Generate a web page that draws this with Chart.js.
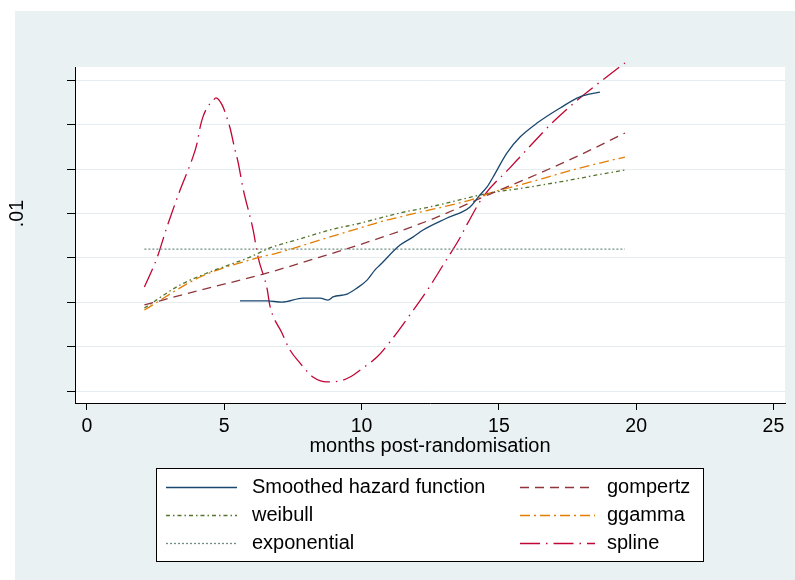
<!DOCTYPE html>
<html>
<head>
<meta charset="utf-8">
<script src="https://cdn.jsdelivr.net/npm/chart.js@4.4.1/dist/chart.umd.min.js"></script>
<style>
  html, body { margin: 0; padding: 0; background: #ffffff; }
  #wrap { width: 795px; height: 580px; position: relative; }
</style>
</head>
<body>
<div id="wrap"><canvas id="c" width="795" height="580"></canvas></div>
<script>
// ---- data ----
const xTickValues = [0, 5, 10, 15, 20, 25];
const yTickValues = [0.002, 0.004, 0.006, 0.008, 0.010, 0.012, 0.014, 0.016];

const hazardX = [5.57, 6.56, 7.10, 7.87, 8.49, 8.78, 8.96, 9.47, 9.83, 10.20, 10.49, 10.67, 11.40, 11.87, 12.24, 13.11, 13.95, 14.31, 14.57, 14.79, 15.29, 15.77, 16.39, 17.23, 17.95, 18.68];
const hazardY = [0.00606, 0.00606, 0.00601, 0.00619, 0.00619, 0.00610, 0.00624, 0.00637, 0.00664, 0.00700, 0.00746, 0.00768, 0.00858, 0.00894, 0.00926, 0.00980, 0.01030, 0.01084, 0.01120, 0.01165, 0.01273, 0.01345, 0.01408, 0.01476, 0.01526, 0.01548];

const gompertzX = [2.09, 4.12, 6.30, 8.49, 10.67, 12.49, 14.68, 16.50, 17.95, 19.59];
const gompertzY = [0.00588, 0.00655, 0.00723, 0.00804, 0.00890, 0.00971, 0.01088, 0.01183, 0.01264, 0.01363];

const weibullX = [2.09, 3.39, 4.48, 5.94, 6.66, 7.87, 8.96, 9.83, 10.67, 11.40, 12.49, 14.68, 15.88, 17.59, 18.57, 19.59];
const weibullY = [0.00574, 0.00678, 0.00737, 0.00804, 0.00845, 0.00890, 0.00930, 0.00953, 0.00980, 0.01003, 0.01030, 0.01093, 0.01115, 0.01151, 0.01174, 0.01196];

const ggammaX = [2.09, 4.12, 6.19, 6.92, 8.49, 9.94, 10.67, 11.40, 14.31, 14.68, 15.77, 17.70, 18.68, 19.59];
const ggammaY = [0.00565, 0.00714, 0.00800, 0.00822, 0.00881, 0.00935, 0.00962, 0.00985, 0.01075, 0.01093, 0.01129, 0.01197, 0.01228, 0.01255];

const exponentialX = [2.09, 19.59];
const exponentialY = [0.00840, 0.00840];

const splineX = [2.09, 2.55, 2.91, 3.39, 3.82, 4.01, 4.12, 4.22, 4.41, 4.55, 4.70, 4.92, 5.10, 5.21, 5.39, 5.50, 5.68, 6.05, 6.23, 6.56, 6.66, 7.10, 7.39, 7.76, 8.23, 8.74, 9.21, 9.58, 10.05, 10.56, 11.03, 11.76, 12.49, 13.04, 13.58, 13.87, 14.42, 15.40, 16.24, 16.97, 17.95, 18.68, 19.59];
const splineY = [0.00669, 0.00800, 0.00939, 0.01106, 0.01242, 0.01318, 0.01390, 0.01435, 0.01485, 0.01503, 0.01522, 0.01490, 0.01431, 0.01386, 0.01287, 0.01233, 0.01115, 0.00926, 0.00804, 0.00660, 0.00585, 0.00462, 0.00385, 0.00326, 0.00263, 0.00241, 0.00245, 0.00263, 0.00304, 0.00353, 0.00421, 0.00543, 0.00673, 0.00782, 0.00890, 0.00958, 0.01075, 0.01206, 0.01318, 0.01413, 0.01521, 0.01593, 0.01679];

const seriesNames = ['Smoothed hazard function', 'gompertz', 'weibull', 'ggamma', 'exponential', 'spline'];

function pts(xs, ys) { return xs.map((x, i) => ({ x: x, y: ys[i] })); }

const FONT = "'Liberation Sans', Arial, Helvetica, sans-serif";

const datasets = [
  { label: seriesNames[0], data: pts(hazardX, hazardY), borderColor: '#1a476f', borderDash: [] },
  { label: seriesNames[1], data: pts(gompertzX, gompertzY), borderColor: '#90353b', borderDash: [9, 6] },
  { label: seriesNames[2], data: pts(weibullX, weibullY), borderColor: '#55752f', borderDash: [4, 3, 1.5, 3] },
  { label: seriesNames[3], data: pts(ggammaX, ggammaY), borderColor: '#e37e00', borderDash: [10, 4, 2, 4] },
  { label: seriesNames[4], data: pts(exponentialX, exponentialY), borderColor: '#6e8e84', borderDash: [2, 2] },
  { label: seriesNames[5], data: pts(splineX, splineY), borderColor: '#c10534', borderDash: [20, 6, 1.5, 6] }
].map(d => Object.assign({
  borderWidth: 1.3, pointRadius: 0, fill: false, cubicInterpolationMode: 'monotone', clip: false
}, d));

const bgPlugin = {
  id: 'bgPlugin',
  beforeDraw(chart) {
    const ctx = chart.ctx, a = chart.chartArea;
    ctx.save();
    ctx.fillStyle = '#e9f1f3';
    ctx.fillRect(15, 11, 780, 569);
    ctx.fillStyle = '#ffffff';
    ctx.fillRect(a.left, a.top, a.right - a.left, a.bottom - a.top);
    ctx.restore();
  }
};

const legendPlugin = {
  id: 'boxLegend',
  afterDraw(chart) {
    const ctx = chart.ctx;
    const box = { x: 156, y: 468, w: 547, h: 93 };
    ctx.save();
    ctx.fillStyle = '#ffffff';
    ctx.fillRect(box.x, box.y, box.w, box.h);
    ctx.strokeStyle = '#000000';
    ctx.lineWidth = 1;
    ctx.strokeRect(box.x + 0.5, box.y + 0.5, box.w, box.h);
    const rows = [487, 515, 543];
    const cols = [{ x0: 166, x1: 237, tx: 252 }, { x0: 520, x1: 595, tx: 607 }];
    const order = [[0, 0, 0], [1, 1, 0], [2, 0, 1], [3, 1, 1], [4, 0, 2], [5, 1, 2]];
    ctx.font = '20px ' + FONT;
    ctx.textBaseline = 'middle';
    ctx.textAlign = 'left';
    order.forEach(([di, ci, ri]) => {
      const ds = chart.data.datasets[di];
      const c = cols[ci], y = rows[ri];
      ctx.beginPath();
      ctx.setLineDash(ds.borderDash || []);
      ctx.strokeStyle = ds.borderColor;
      ctx.lineWidth = ds.borderWidth;
      ctx.moveTo(c.x0, y + 0.5);
      ctx.lineTo(c.x1, y + 0.5);
      ctx.stroke();
      ctx.setLineDash([]);
      ctx.fillStyle = '#000000';
      ctx.fillText(ds.label, c.tx, y);
    });
    ctx.restore();
  }
};

new Chart(document.getElementById('c'), {
  type: 'line',
  data: { datasets: datasets },
  plugins: [bgPlugin, legendPlugin],
  options: {
    responsive: false,
    devicePixelRatio: 1,
    animation: false,
    layout: { padding: { left: 0, top: 67, right: 10, bottom: 0 } },
    plugins: { legend: { display: false }, tooltip: { enabled: false } },
    scales: {
      x: {
        type: 'linear',
        min: -0.437,
        max: 25.42,
        afterBuildTicks: s => { s.ticks = xTickValues.map(v => ({ value: v })); },
        afterFit: s => { s.height = 177; },
        grid: { display: true, drawOnChartArea: false, drawTicks: true, tickLength: 7, tickColor: '#000000', tickWidth: 1 },
        border: { display: true, color: '#000000', width: 1 },
        ticks: { color: '#000000', padding: 5, maxRotation: 0, font: { family: FONT, size: 19.5 }, callback: v => String(v) },
        title: { display: true, text: 'months post-randomisation', color: '#000000', font: { family: FONT, size: 20 }, padding: { top: 0, bottom: 122 } }
      },
      y: {
        type: 'linear',
        min: 0.001459,
        max: 0.016609,
        afterBuildTicks: s => { s.ticks = yTickValues.map(v => ({ value: v })); },
        afterFit: s => { s.width = 75; },
        grid: { display: true, drawOnChartArea: true, color: '#e4edf0', lineWidth: 1, drawTicks: true, tickLength: 8, tickColor: '#000000', tickWidth: 1 },
        border: { display: true, color: '#000000', width: 1 },
        ticks: {
          color: '#000000', padding: 36, minRotation: 90, maxRotation: 90, crossAlign: 'center',
          font: { family: FONT, size: 19.5 },
          callback: v => (Math.abs(v - 0.01) < 1e-9 ? '.01' : '')
        }
      }
    }
  }
});
</script>
</body>
</html>
